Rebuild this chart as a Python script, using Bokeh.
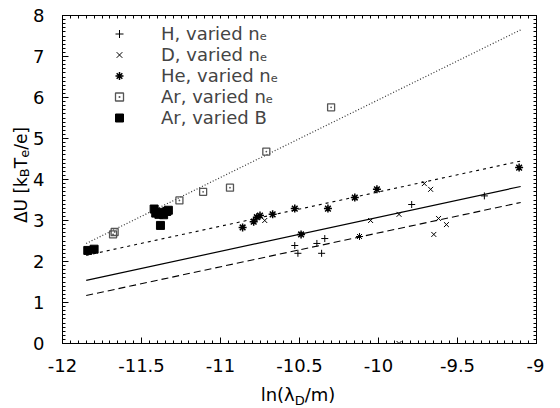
import numpy as np
from bokeh.plotting import figure
from bokeh.models import (LinearAxis, Legend, LegendItem, FixedTicker, Range1d, Div)
from bokeh.layouts import row, column
from bokeh.embed import file_html
from bokeh.resources import INLINE

# ---------------- data ----------------
H_x = [-10.53, -10.51, -10.39, -10.34, -10.36, -10.12, -9.79, -9.33]
H_y = [2.39, 2.20, 2.44, 2.56, 2.20, 2.61, 3.39, 3.60]

D_x = [-10.72, -10.12, -10.05, -9.87, -9.71, -9.67, -9.65, -9.62, -9.57, -9.87]
D_y = [3.00, 2.61, 3.00, 3.15, 3.90, 3.76, 2.66, 3.05, 2.90, 0.00]

He_x = [-10.86, -10.79, -10.77, -10.75, -10.67, -10.53, -10.49, -10.32, -10.15, -10.01, -9.11]
He_y = [2.83, 2.97, 3.08, 3.12, 3.15, 3.29, 2.66, 3.29, 3.56, 3.76, 4.29]

ArN_x = [-11.68, -11.67, -11.26, -11.11, -10.94, -10.71, -10.30]
ArN_y = [2.66, 2.72, 3.49, 3.70, 3.80, 4.68, 5.76]

ArB_x = [-11.84, -11.80, -11.42, -11.41, -11.39, -11.37, -11.36, -11.34, -11.33, -11.38]
ArB_y = [2.27, 2.30, 3.28, 3.18, 3.15, 3.20, 3.14, 3.22, 3.25, 2.88]

fit_x = [-11.85, -9.10]
fit_Ar = [2.44, 7.65]
fit_He = [2.15, 4.45]
fit_solid = [1.54, 3.83]
fit_longdash = [1.17, 3.44]

x_ticks = [-12, -11.5, -11, -10.5, -10, -9.5, -9]
x_tick_labels = ["-12", "-11.5", "-11", "-10.5", "-10", "-9.5", "-9"]
y_ticks = [0, 1, 2, 3, 4, 5, 6, 7, 8]

FONT = "DejaVu Sans"

YW = 30               # width of the y-title column
PW, PH = 544 - YW, 379
XH = 404 - PH         # height of the x-title row

p = figure(width=PW, height=PH, x_range=Range1d(-12, -9), y_range=Range1d(0, 8),
           output_backend="svg", toolbar_location=None,
           min_border_left=30, min_border_right=8, min_border_top=15,
           min_border_bottom=PH - 15 - 328)
p.xgrid.visible = False
p.ygrid.visible = False
p.outline_line_color = "black"
p.outline_line_width = 1

x_minor = list(np.round(np.arange(-12, -8.99, 0.05), 2))
y_minor = list(np.round(np.arange(0, 8.01, 0.1), 1))


def style(ax):
    ax.major_tick_in = 6
    ax.major_tick_out = 0
    ax.minor_tick_in = 3
    ax.minor_tick_out = 0
    ax.axis_line_color = "black"
    ax.major_tick_line_color = "black"
    ax.minor_tick_line_color = "black"
    ax.major_label_text_font = FONT
    ax.major_label_text_font_size = "18px"
    ax.major_label_text_color = "black"


bx = p.xaxis[0]
bx.ticker = FixedTicker(ticks=x_ticks, minor_ticks=x_minor)
style(bx)
bx.major_label_overrides = {t: l for t, l in zip(x_ticks, x_tick_labels)}
bx.major_label_standoff = 15

ly = p.yaxis[0]
ly.ticker = FixedTicker(ticks=y_ticks, minor_ticks=y_minor)
style(ly)
ly.major_label_standoff = 18

top = LinearAxis(ticker=FixedTicker(ticks=[], minor_ticks=x_minor), major_label_standoff=0)
style(top)
p.add_layout(top, "above")
right = LinearAxis(ticker=FixedTicker(ticks=[], minor_ticks=y_minor), major_label_standoff=0)
style(right)
p.add_layout(right, "right")

# fit lines
p.line(fit_x, fit_Ar, line_color="#333333", line_width=1.2, line_dash="1 2")
p.line(fit_x, fit_He, line_color="black", line_width=1.1, line_dash="3 4")
p.line(fit_x, fit_solid, line_color="black", line_width=1.2)
p.line(fit_x, fit_longdash, line_color="black", line_width=1.1, line_dash="7 4")

# data points
rH = p.scatter(H_x, H_y, marker="cross", size=7, line_color="black", line_width=1)
rD = p.scatter(D_x, D_y, marker="x", size=7, line_color="black", line_width=1)
rHe = p.scatter(He_x, He_y, marker="asterisk", size=8, line_color="black", line_width=1.5)
rArN = p.scatter(ArN_x, ArN_y, marker="square_dot", size=7, fill_color=None,
                 line_color="#555555", line_width=1.3)
rArB = p.scatter(ArB_x, ArB_y, marker="square", size=8, fill_color="black", line_color="black")

legend = Legend(items=[
    LegendItem(label="H, varied n\u2091", renderers=[rH]),
    LegendItem(label="D, varied n\u2091", renderers=[rD]),
    LegendItem(label="He, varied n\u2091", renderers=[rHe]),
    LegendItem(label="Ar, varied n\u2091", renderers=[rArN]),
    LegendItem(label="Ar, varied B", renderers=[rArB]),
], location=(47, 215))
legend.label_text_font = FONT
legend.label_text_font_size = "18px"
legend.glyph_width = 20
legend.glyph_height = 21
legend.label_height = 21
legend.spacing = 0
legend.padding = 0
legend.margin = 0
legend.label_standoff = 32
legend.border_line_color = None
legend.background_fill_alpha = 0
p.add_layout(legend)

# axis titles as HTML text (for the subscripts)
SUB = 'style="font-size:13px; line-height:0; vertical-align:-4px;"'
ylab = Div(width=YW, height=PH, margin=(0, 0, 0, 0), text=(
    '<div style="width:%dpx; height:%dpx; box-sizing:border-box; padding-bottom:29px; '
    'display:flex; flex-direction:row; align-items:center; justify-content:flex-end;">'
    '<div style="writing-mode:vertical-rl; transform:rotate(180deg); '
    'white-space:nowrap; font-family:\'DejaVu Sans\'; font-size:17px; line-height:18px; '
    'color:black;">'
    '\u0394U [k<span %s>B</span>T<span %s>e</span>/e]</div></div>') % (YW, PH, SUB, SUB))

xlab = Div(width=544, height=XH, margin=(0, 0, 0, 0), text=(
    '<div style="width:544px; box-sizing:border-box; padding-left:%dpx; padding-right:8px; '
    'padding-top:6px; text-align:center; white-space:nowrap; font-family:\'DejaVu Sans\'; '
    'font-size:18px; line-height:19px; color:black;">'
    'ln(\u03bb<span %s>D</span>/m)</div>') % (YW + 30, SUB))

layout = column(row(ylab, p, spacing=0), xlab, spacing=0)

open("out.html", "w").write(file_html(layout, INLINE))
